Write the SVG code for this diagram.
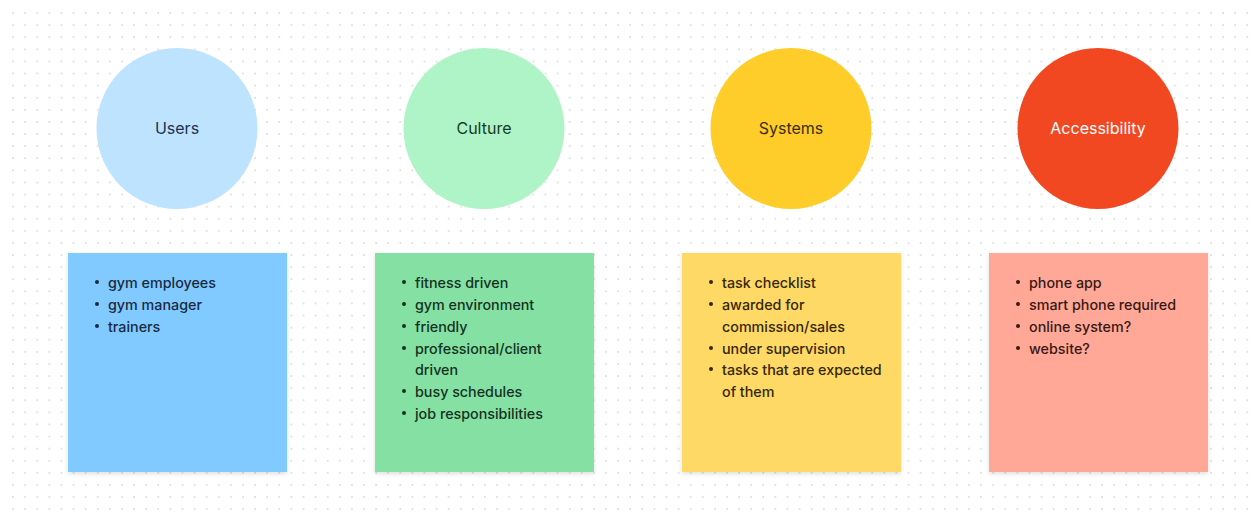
<svg xmlns="http://www.w3.org/2000/svg" width="1257" height="516" viewBox="0 0 1257 516">
<defs>
<pattern id="dots" x="0" y="0" width="12.1" height="12.1" patternUnits="userSpaceOnUse">
<circle cx="1" cy="1" r="0.9" fill="#d6d6d6"/>
</pattern>
<filter id="sh" x="-10%" y="-10%" width="120%" height="125%">
<feDropShadow dx="0" dy="2" stdDeviation="2" flood-color="#000" flood-opacity="0.12"/>
</filter>
</defs>
<style>
.lbl{font-family:Inter,"Liberation Sans",sans-serif;font-size:16px;text-anchor:middle}
.li{font-family:Inter,"Liberation Sans",sans-serif;font-size:14.3px;font-weight:500}
</style>
<rect width="1257" height="516" fill="#ffffff"/>
<rect x="10" y="5" width="1247" height="511" fill="url(#dots)"/>
<g id="connectors"/>
<g id="users-circle">
<circle cx="177" cy="128.5" r="80.5" fill="#BDE3FF"/>
<text class="lbl" x="177" y="134" fill="#1E3150">Users</text>
</g>
<g id="culture-circle">
<circle cx="484" cy="128.5" r="80.5" fill="#AFF4C6"/>
<text class="lbl" x="484" y="134" fill="#173B26">Culture</text>
</g>
<g id="systems-circle">
<circle cx="791" cy="128.5" r="80.5" fill="#FFCD29"/>
<text class="lbl" x="791" y="134" fill="#3B2B05">Systems</text>
</g>
<g id="accessibility-circle">
<circle cx="1098" cy="128.5" r="80.5" fill="#F24822"/>
<text class="lbl" x="1098" y="134" fill="#FFFFFF">Accessibility</text>
</g>
<g id="users-note">
<rect x="68" y="253" width="219" height="219" fill="#80CAFF" filter="url(#sh)"/>
<g class="li" fill="#1A2A40">
<circle cx="97" cy="282" r="2"/><text x="108" y="287.5">gym employees</text>
<circle cx="97" cy="304" r="2"/><text x="108" y="309.5">gym manager</text>
<circle cx="97" cy="326" r="2"/><text x="108" y="331.5">trainers</text>
</g>
</g>
<g id="culture-note">
<rect x="375" y="253" width="219" height="219" fill="#85E0A3" filter="url(#sh)"/>
<g class="li" fill="#14321F">
<circle cx="404" cy="282" r="2"/><text x="415" y="287.5">fitness driven</text>
<circle cx="404" cy="304" r="2"/><text x="415" y="309.5">gym environment</text>
<circle cx="404" cy="326" r="2"/><text x="415" y="331.5">friendly</text>
<circle cx="404" cy="348" r="2"/><text x="415" y="353.5">professional/client</text>
<text x="415" y="375">driven</text>
<circle cx="404" cy="391" r="2"/><text x="415" y="396.5">busy schedules</text>
<circle cx="404" cy="413" r="2"/><text x="415" y="418.5">job responsibilities</text>
</g>
</g>
<g id="systems-note">
<rect x="682" y="253" width="219" height="219" fill="#FFD966" filter="url(#sh)"/>
<g class="li" fill="#352705">
<circle cx="711" cy="282" r="2"/><text x="722" y="287.5">task checklist</text>
<circle cx="711" cy="304" r="2"/><text x="722" y="309.5">awarded for</text>
<text x="722" y="331.5">commission/sales</text>
<circle cx="711" cy="348" r="2"/><text x="722" y="353.5">under supervision</text>
<circle cx="711" cy="369" r="2"/><text x="722" y="374.5">tasks that are expected</text>
<text x="722" y="396.5">of them</text>
</g>
</g>
<g id="accessibility-note">
<rect x="989" y="253" width="219" height="219" fill="#FFA898" filter="url(#sh)"/>
<g class="li" fill="#3A1812">
<circle cx="1018" cy="282" r="2"/><text x="1029" y="287.5">phone app</text>
<circle cx="1018" cy="304" r="2"/><text x="1029" y="309.5">smart phone required</text>
<circle cx="1018" cy="326" r="2"/><text x="1029" y="331.5">online system?</text>
<circle cx="1018" cy="348" r="2"/><text x="1029" y="353.5">website?</text>
</g>
</g>
</svg>
